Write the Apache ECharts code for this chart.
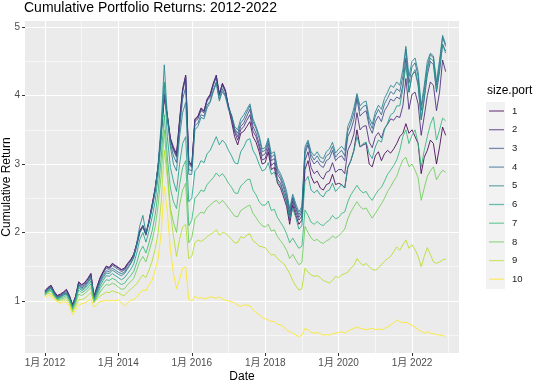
<!DOCTYPE html>
<html>
<head>
<meta charset="utf-8">
<script src="https://cdn.jsdelivr.net/npm/echarts@6/dist/echarts.min.js"></script>
<style>
html,body{margin:0;padding:0;background:#fff;}
#chart{width:534px;height:384px;}
</style>
</head>
<body>
<div id="chart"></div>
<script>
// ---- DATA ----
const seriesNames = ['1','2','3','4','5','6','7','8','9','10'];
const colors = ['#440154','#482878','#3E4A89','#31688E','#26828E','#1F9E89','#35B779','#6DCD59','#B4DE2C','#FDE725'];
// monthly dates Jan 2012 .. Dec 2022
const dates = [];
for (let y = 2012; y <= 2022; y++) for (let m = 1; m <= 12; m++) dates.push(y + '-' + (m < 10 ? '0' + m : m));
const xTickYears = [2012, 2014, 2016, 2018, 2020, 2022];
const xMinorYears = [2013, 2015, 2017, 2019, 2021, 2023];
const yTicks = [1, 2, 3, 4, 5];
const yMinor = [0.5, 1.5, 2.5, 3.5, 4.5];

const s1 = [
1.15,1.20,1.23,1.14,1.08,1.10,1.13,1.17,1.08,0.95,1.07,1.28,
1.24,1.27,1.33,1.40,1.07,1.21,1.34,1.43,1.51,1.49,1.55,1.52,
1.49,1.46,1.48,1.55,1.60,1.68,1.84,2.03,2.10,1.98,2.17,2.40,
2.64,2.97,3.45,3.95,3.72,3.38,3.25,3.15,3.65,4.10,4.30,3.05,
2.98,3.66,3.70,3.82,3.78,3.95,4.02,4.18,4.30,4.02,4.18,4.08,
3.82,3.62,3.40,3.28,3.45,3.48,3.55,3.62,3.40,3.32,3.18,3.00,
3.02,3.18,2.92,2.95,2.72,2.65,2.52,2.38,2.12,2.40,2.25,2.12,
2.18,2.92,3.05,2.82,2.72,2.75,2.65,2.62,2.70,2.72,2.85,2.70,
2.72,2.70,2.65,2.95,3.05,3.20,3.50,3.25,3.28,3.30,3.00,2.96,
3.12,3.18,3.05,3.15,3.20,3.16,3.22,3.30,3.40,3.45,3.59,3.45,
3.50,3.40,3.30,2.86,3.10,3.20,3.35,3.30,3.00,3.25,3.54,3.42];
const s2 = [
1.14,1.19,1.22,1.13,1.07,1.09,1.12,1.16,1.07,0.94,1.06,1.27,
1.23,1.26,1.32,1.40,1.06,1.20,1.33,1.42,1.50,1.48,1.54,1.51,
1.48,1.45,1.47,1.54,1.60,1.68,1.84,2.02,2.10,1.98,2.17,2.40,
2.64,2.98,3.48,4.02,3.70,3.36,3.22,3.12,3.62,4.08,4.28,3.02,
2.97,3.64,3.68,3.80,3.77,3.94,4.00,4.16,4.28,4.02,4.17,4.06,
3.84,3.68,3.47,3.35,3.50,3.55,3.64,3.72,3.48,3.40,3.25,3.06,
3.08,3.24,2.98,3.02,2.78,2.72,2.58,2.44,2.18,2.46,2.30,2.18,
2.24,3.05,3.18,2.95,2.86,2.90,2.82,2.78,2.88,2.90,3.02,2.88,
2.92,2.92,2.86,3.20,3.30,3.44,3.75,3.50,3.55,3.56,3.32,3.24,
3.40,3.46,3.38,3.52,3.58,3.66,3.64,3.70,3.68,3.85,4.25,3.80,
4.02,4.05,3.88,3.42,3.70,4.00,4.20,4.15,3.78,4.05,4.52,4.35];
const s3 = [
1.13,1.18,1.21,1.12,1.06,1.08,1.11,1.14,1.06,0.93,1.05,1.26,
1.21,1.24,1.30,1.38,1.05,1.18,1.31,1.40,1.48,1.46,1.52,1.49,
1.46,1.43,1.45,1.52,1.58,1.66,1.82,2.00,2.08,1.96,2.15,2.38,
2.62,2.95,3.45,4.00,3.70,3.35,3.20,3.10,3.60,4.05,4.27,3.00,
2.95,3.62,3.66,3.78,3.75,3.92,3.98,4.15,4.27,4.00,4.15,4.05,
3.85,3.70,3.50,3.40,3.55,3.60,3.70,3.80,3.55,3.45,3.30,3.12,
3.15,3.30,3.05,3.08,2.85,2.78,2.65,2.50,2.25,2.50,2.35,2.22,
2.30,3.15,3.28,3.08,3.00,3.05,2.98,2.95,3.05,3.08,3.20,3.05,
3.10,3.12,3.05,3.40,3.50,3.65,3.95,3.70,3.75,3.78,3.55,3.45,
3.62,3.70,3.62,3.78,3.85,3.95,3.92,3.98,3.95,4.15,4.55,4.05,
4.30,4.35,4.15,3.65,3.95,4.30,4.50,4.45,4.05,4.35,4.75,4.65];
const s4 = [
1.12,1.17,1.20,1.11,1.05,1.07,1.10,1.12,1.05,0.92,1.04,1.24,
1.19,1.22,1.28,1.35,1.04,1.16,1.28,1.37,1.44,1.43,1.48,1.45,
1.42,1.40,1.42,1.49,1.55,1.63,1.80,2.00,2.10,1.97,2.14,2.36,
2.60,2.96,3.50,4.15,3.68,3.30,3.12,3.02,3.50,3.95,4.12,2.92,
2.90,3.56,3.60,3.72,3.70,3.86,3.92,4.08,4.20,3.95,4.10,4.00,
3.82,3.70,3.52,3.45,3.60,3.66,3.76,3.85,3.62,3.52,3.38,3.18,
3.20,3.35,3.10,3.14,2.90,2.82,2.70,2.55,2.30,2.52,2.38,2.26,
2.34,3.20,3.32,3.14,3.06,3.12,3.04,3.02,3.12,3.15,3.26,3.10,
3.16,3.20,3.12,3.48,3.60,3.75,4.00,3.78,3.84,3.86,3.62,3.52,
3.70,3.80,3.72,3.88,3.96,4.06,4.02,4.10,4.06,4.28,4.68,4.18,
4.42,4.48,4.28,3.78,4.08,4.42,4.60,4.55,4.15,4.46,4.85,4.72];
const s5 = [
1.11,1.16,1.19,1.10,1.04,1.06,1.09,1.11,1.04,0.91,1.03,1.22,
1.17,1.20,1.26,1.33,1.03,1.14,1.26,1.34,1.41,1.40,1.45,1.42,
1.39,1.37,1.40,1.47,1.54,1.64,1.84,2.10,2.25,2.00,2.15,2.35,
2.60,3.00,3.60,4.45,3.70,3.25,3.00,2.90,3.40,3.75,3.90,2.85,
2.85,3.50,3.55,3.68,3.66,3.82,3.90,4.05,4.18,3.92,4.06,3.98,
3.80,3.72,3.55,3.50,3.66,3.72,3.80,3.88,3.66,3.55,3.42,3.22,
3.24,3.38,3.15,3.18,2.94,2.86,2.75,2.60,2.35,2.56,2.42,2.30,
2.38,3.25,3.35,3.18,3.12,3.18,3.10,3.08,3.18,3.22,3.32,3.16,
3.22,3.26,3.20,3.55,3.66,3.82,4.03,3.85,3.90,3.92,3.68,3.58,
3.76,3.86,3.80,3.96,4.05,4.15,4.12,4.20,4.15,4.38,4.72,4.28,
4.50,4.55,4.35,3.85,4.15,4.50,4.62,4.58,4.20,4.52,4.88,4.75];
const s6 = [
1.10,1.15,1.18,1.09,1.03,1.05,1.08,1.10,1.03,0.90,1.01,1.20,
1.15,1.18,1.23,1.29,1.01,1.11,1.22,1.30,1.37,1.36,1.40,1.37,
1.34,1.31,1.34,1.40,1.46,1.54,1.70,1.90,2.00,1.86,2.02,2.22,
2.45,2.82,3.35,4.20,3.40,2.95,2.75,2.60,3.00,3.30,3.40,2.45,
2.50,2.90,2.95,3.05,3.02,3.15,3.20,3.30,3.40,3.28,3.35,3.30,
3.20,3.12,3.02,3.00,3.18,3.25,3.35,3.37,3.20,3.12,3.00,2.90,
2.92,3.02,2.85,2.88,2.75,2.68,2.58,2.45,2.20,2.35,2.22,2.05,
2.10,2.75,2.82,2.62,2.58,2.62,2.55,2.52,2.60,2.62,2.72,2.60,
2.65,2.70,2.65,2.95,3.05,3.20,3.40,3.25,3.30,3.32,3.15,3.08,
3.25,3.35,3.32,3.50,3.60,3.72,3.75,3.85,3.85,4.10,4.45,4.05,
4.30,4.38,4.18,3.65,3.98,4.38,4.55,4.50,4.08,4.40,4.75,4.62];
const s7 = [
1.09,1.14,1.16,1.08,1.02,1.04,1.06,1.08,1.01,0.88,0.99,1.16,
1.12,1.15,1.19,1.25,0.99,1.08,1.18,1.25,1.31,1.30,1.33,1.31,
1.27,1.24,1.26,1.32,1.37,1.43,1.56,1.72,1.80,1.70,1.85,2.02,
2.25,2.60,3.10,3.72,3.10,2.65,2.45,2.35,2.70,2.95,3.05,2.10,
2.18,2.50,2.55,2.62,2.60,2.70,2.75,2.80,2.87,2.82,2.86,2.80,
2.72,2.66,2.58,2.57,2.68,2.72,2.77,2.78,2.62,2.55,2.45,2.40,
2.40,2.46,2.32,2.34,2.22,2.15,2.08,1.98,1.85,1.92,1.84,1.77,
1.80,2.33,2.25,2.15,2.12,2.16,2.12,2.10,2.15,2.18,2.25,2.20,
2.22,2.28,2.30,2.45,2.55,2.62,2.69,2.62,2.58,2.60,2.52,2.47,
2.55,2.62,2.66,2.75,2.85,2.91,2.98,3.06,3.20,3.40,3.50,3.30,
3.42,3.50,3.30,2.96,3.20,3.40,3.58,3.69,3.35,3.50,3.67,3.63];
const s8 = [
1.08,1.13,1.14,1.07,1.01,1.02,1.04,1.05,0.99,0.86,0.96,1.10,
1.08,1.11,1.15,1.20,0.98,1.05,1.13,1.19,1.24,1.23,1.26,1.24,
1.20,1.17,1.18,1.24,1.28,1.33,1.45,1.58,1.65,1.57,1.72,1.88,
2.08,2.40,2.85,3.50,2.90,2.35,2.15,2.00,2.40,2.62,2.72,1.85,
1.92,2.20,2.25,2.30,2.28,2.36,2.40,2.44,2.47,2.42,2.47,2.42,
2.36,2.30,2.24,2.23,2.32,2.35,2.38,2.40,2.28,2.22,2.15,2.10,
2.08,2.12,2.02,2.04,1.94,1.88,1.82,1.74,1.62,1.68,1.60,1.53,
1.56,2.09,2.00,1.92,1.88,1.90,1.86,1.84,1.88,1.90,1.95,1.92,
1.95,2.00,2.05,2.20,2.30,2.38,2.45,2.38,2.34,2.36,2.28,2.21,
2.28,2.35,2.42,2.50,2.60,2.67,2.75,2.82,2.95,3.06,3.10,2.96,
3.00,2.91,2.80,2.47,2.65,2.82,2.90,2.96,2.77,2.85,2.91,2.88];
const s9 = [
1.08,1.11,1.10,1.05,1.01,1.00,1.02,1.01,0.97,0.84,0.92,1.02,
1.02,1.04,1.08,1.12,0.98,1.03,1.07,1.10,1.13,1.12,1.15,1.13,
1.12,1.09,1.08,1.13,1.17,1.21,1.25,1.32,1.38,1.34,1.45,1.58,
1.75,2.00,2.45,3.20,2.80,2.30,1.95,1.65,1.90,2.08,2.12,1.62,
1.65,1.85,1.89,1.87,1.90,1.94,1.97,2.00,2.04,1.96,2.00,1.99,
1.95,1.90,1.85,1.85,1.94,1.92,1.96,1.98,1.88,1.85,1.80,1.79,
1.78,1.72,1.67,1.68,1.62,1.58,1.55,1.48,1.40,1.30,1.22,1.16,
1.18,1.48,1.42,1.38,1.36,1.37,1.34,1.30,1.28,1.26,1.30,1.36,
1.34,1.38,1.40,1.42,1.48,1.52,1.62,1.56,1.52,1.55,1.50,1.46,
1.45,1.48,1.53,1.58,1.62,1.65,1.72,1.79,1.74,1.82,1.89,1.77,
1.82,1.75,1.65,1.50,1.65,1.78,1.68,1.57,1.55,1.57,1.60,1.61];
const s10 = [
1.05,1.08,1.07,1.02,0.99,0.97,0.99,0.98,0.93,0.80,0.87,0.94,
0.96,0.97,1.00,1.03,0.91,0.96,0.99,1.00,1.01,1.00,1.01,1.00,
1.02,0.97,0.93,0.97,1.01,1.02,1.06,1.12,1.16,1.15,1.24,1.30,
1.45,1.62,2.00,2.67,2.30,1.75,1.40,1.18,1.32,1.48,1.50,1.02,
1.00,1.07,1.04,1.05,1.03,1.04,1.06,1.05,1.04,1.06,1.03,1.01,
1.00,0.99,0.97,0.94,0.92,0.94,0.94,0.93,0.87,0.83,0.80,0.76,
0.74,0.72,0.70,0.70,0.66,0.65,0.62,0.58,0.55,0.53,0.50,0.48,
0.50,0.60,0.58,0.54,0.53,0.54,0.52,0.50,0.51,0.50,0.52,0.53,
0.54,0.55,0.53,0.56,0.58,0.60,0.62,0.60,0.59,0.58,0.59,0.60,
0.58,0.59,0.58,0.60,0.62,0.65,0.68,0.72,0.70,0.68,0.69,0.67,
0.64,0.62,0.58,0.56,0.53,0.55,0.53,0.52,0.51,0.50,0.50,0.48];
const seriesValues = [s1, s2, s3, s4, s5, s6, s7, s8, s9, s10];

// ---- CHART ----
const FONT = '"Liberation Sans", Arial, "Noto Sans CJK SC", sans-serif';
function dateToYear(d) { const p = d.split('-'); return +p[0] + (+p[1] - 1) / 12; }
const xVals = dates.map(dateToYear);

const chart = echarts.init(document.getElementById('chart'), null, { renderer: 'canvas' });

const gridLines = [];
xTickYears.forEach(v => gridLines.push({ xAxis: v, lineStyle: { width: 1.1 } }));
xMinorYears.forEach(v => gridLines.push({ xAxis: v, lineStyle: { width: 0.55 } }));
yTicks.forEach(v => gridLines.push({ yAxis: v, lineStyle: { width: 1.1 } }));
yMinor.forEach(v => gridLines.push({ yAxis: v, lineStyle: { width: 0.55 } }));

const series = [{
  name: '__grid', type: 'line', data: [], z: 1, silent: true,
  markLine: {
    silent: true, symbol: ['none', 'none'], label: { show: false }, z: 1,
    animation: false,
    lineStyle: { color: '#FFFFFF', type: 'solid', opacity: 1 },
    emphasis: { disabled: true },
    data: gridLines
  }
}];
seriesNames.forEach((n, i) => {
  series.push({
    name: n, type: 'line', z: 2,
    data: seriesValues[i].map((v, j) => [xVals[j], v]),
    showSymbol: false, symbol: 'none',
    lineStyle: { color: colors[i], width: 1, opacity: 0.85 },
    itemStyle: { color: colors[i] },
    emphasis: { disabled: true },
    silent: true
  });
});

chart.setOption({
  animation: false,
  backgroundColor: '#FFFFFF',
  textStyle: { fontFamily: FONT },
  title: [
    { text: 'Cumulative Portfolio Returns: 2012-2022', left: 24, top: 1, padding: 0,
      textStyle: { fontSize: 14, fontWeight: 'normal', color: '#000', fontFamily: FONT } },
    { text: 'size.port', left: 487, top: 85, padding: 0,
      textStyle: { fontSize: 12, fontWeight: 'normal', color: '#000', fontFamily: FONT } }
  ],
  graphic: [
    { type: 'rect', left: 486, top: 102, shape: { width: 19, height: 187 }, style: { fill: '#F2F2F2' }, silent: true, z: 0 }
  ],
  legend: {
    orient: 'vertical', left: 489, top: 105, padding: 0,
    data: seriesNames,
    icon: 'rect', itemWidth: 15, itemHeight: 1.3, itemGap: 6.7,
    itemStyle: { opacity: 0.65 },
    selectedMode: false,
    textStyle: { fontSize: 9.5, color: '#1A1A1A', fontFamily: FONT, lineHeight: 12, padding: [0, 0, 0, 3] }
  },
  grid: { left: 25, right: 75, top: 21, bottom: 31, show: true, backgroundColor: '#EBEBEB', borderWidth: 0,
    containLabel: false, outerBoundsMode: 'none' },
  xAxis: {
    type: 'value', min: 2011.455, max: 2023.28,
    name: 'Date', nameLocation: 'middle', nameGap: 18, nameMoveOverlap: false,
    nameTextStyle: { fontSize: 12, color: '#000', fontFamily: FONT },
    axisLine: { show: false },
    splitLine: { show: false },
    axisTick: { show: true, customValues: xTickYears, length: 3, lineStyle: { color: '#333333', width: 1 } },
    axisLabel: { customValues: xTickYears, fontSize: 10, color: '#4D4D4D', margin: 5, fontFamily: FONT,
      formatter: v => '1月 ' + v }
  },
  yAxis: {
    type: 'value', min: 0.24, max: 5.09,
    name: 'Cumulative Return', nameLocation: 'middle', nameGap: 12, nameRotate: 90, nameMoveOverlap: false,
    nameTextStyle: { fontSize: 12, color: '#000', fontFamily: FONT },
    axisLine: { show: false },
    splitLine: { show: false },
    axisTick: { show: true, customValues: yTicks, length: 3, lineStyle: { color: '#333333', width: 1 } },
    axisLabel: { customValues: yTicks, fontSize: 10, color: '#4D4D4D', margin: 5, fontFamily: FONT }
  },
  series: series
});
</script>
</body>
</html>
